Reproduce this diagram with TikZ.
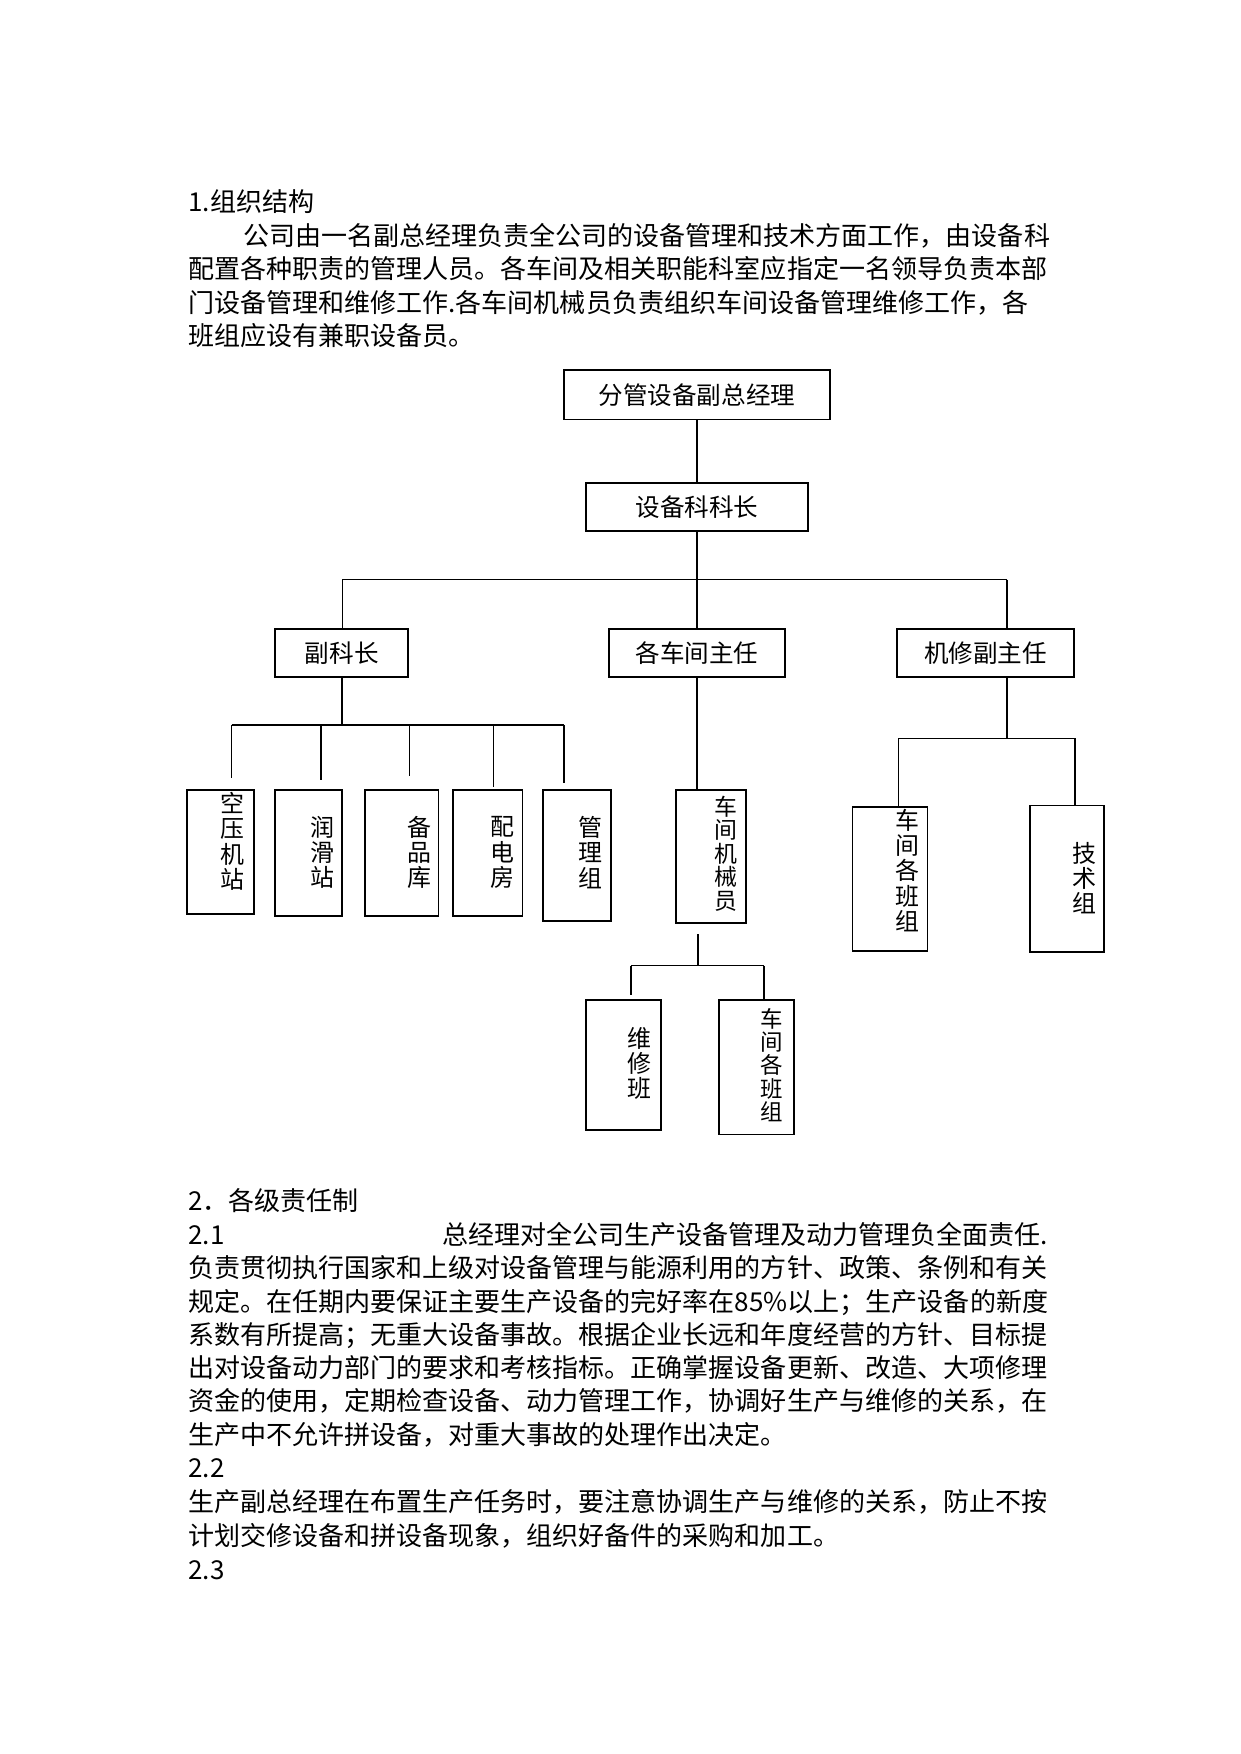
\documentclass[tikz,border=0pt]{standalone}
\usepackage{fontspec}
\setmainfont{Noto Sans CJK SC}
\begin{document}
\begin{tikzpicture}[x=0.5373pt,y=-0.5373pt,
  bx/.style={draw, line width=0.9pt, inner sep=0pt},
  wh/.style 2 args={minimum width=#1*0.5373pt, minimum height=#2*0.5373pt},
  ln/.style={line width=0.75pt},
  body/.style={anchor=base west, inner sep=0pt, font=\fontsize{12.5}{15}\selectfont},
  hl/.style={font=\fontsize{11.8}{14}\selectfont},
  vl/.style={inner sep=0pt, align=center}]
\useasboundingbox (0,0) rectangle (1108.5,1567.8);

% ---- body text, part 1 ----
\node[body] (t0) at (168,189) {1.组织结构};
\node[body] (t1) at (217,219) {公司由一名副总经理负责全公司的设备管理和技术方面工作，由设备科};
\node[body] (t2) at (168,249) {配置各种职责的管理人员。各车间及相关职能科室应指定一名领导负责本部};
\node[body] (t3) at (168,279) {门设备管理和维修工作.各车间机械员负责组织车间设备管理维修工作，各};
\node[body] (t4) at (168,309) {班组应设有兼职设备员。};

% ---- chart boxes ----
\node[bx,wh={238}{44},hl] (A) at (623,353) {分管设备副总经理};
\node[bx,wh={198}{43},hl] (B) at (623,453.5) {设备科科长};
\node[bx,wh={119}{43},hl] (C) at (305.5,583.5) {副科长};
\node[bx,wh={158}{43},hl] (D) at (623,583.5) {各车间主任};
\node[bx,wh={158}{43},hl] (E) at (881,583.5) {机修副主任};

\node[bx,wh={60}{111}] (k1) at (197,761.5) {};
\node[bx,wh={60}{113}] (k2) at (276,762.5) {};
\node[bx,wh={66}{113}] (k3) at (359,762.5) {};
\node[bx,wh={62}{113}] (k4) at (436,762.5) {};
\node[bx,wh={61}{117}] (k5) at (515.5,764.5) {};
\node[bx,wh={63}{119}] (m) at (635.5,765.5) {};
\node[bx,wh={67}{129}] (r1) at (795.5,785.5) {};
\node[bx,wh={66}{131}] (r2) at (954,785.5) {};
\node[bx,wh={67}{116}] (b1) at (557.5,952) {};
\node[bx,wh={67}{120}] (b2) at (676.5,954) {};

% ---- vertical labels ----
\node[vl,font=\fontsize{11.5}{12.1}\selectfont] (lk1) at (208,752) {空\\压\\机\\站};
\node[vl,font=\fontsize{11.5}{12.1}\selectfont] (lk2) at (288,762) {润\\滑\\站};
\node[vl,font=\fontsize{11.5}{12.1}\selectfont] (lk3) at (375,762) {备\\品\\库};
\node[vl,font=\fontsize{11.5}{12.1}\selectfont] (lk4) at (449,762) {配\\电\\房};
\node[vl,font=\fontsize{11.5}{12.1}\selectfont] (lk5) at (528,762) {管\\理\\组};
\node[vl,font=\fontsize{11}{11.3}\selectfont] (lm) at (649,763) {车\\间\\机\\械\\员};
\node[vl,font=\fontsize{11.5}{12.1}\selectfont] (lr1) at (811,778) {车\\间\\各\\班\\组};
\node[vl,font=\fontsize{11.5}{11.9}\selectfont] (lr2) at (969,785) {技\\术\\组};
\node[vl,font=\fontsize{11.5}{12.1}\selectfont] (lb1) at (572,950.5) {维\\修\\班};
\node[vl,font=\fontsize{10.8}{11.1}\selectfont] (lb2) at (690,952) {车\\间\\各\\班\\组};

% ---- connectors ----
\draw[ln] (A.south) -- (B.north);
\coordinate (bus1) at (623,518);
\coordinate (bus1L) at (306,518);
\coordinate (bus1R) at (900,518);
\draw[ln] (B.south) -- (bus1);
\draw[ln] (bus1L) -- (bus1R);
\draw[ln] (bus1L) -- (bus1L |- C.north);
\draw[ln] (bus1) -- (D.north);
\draw[ln] (bus1R) -- (bus1R |- E.north);

\coordinate (bus2) at (306,648);
\coordinate (bus2L) at (207,648);
\coordinate (bus2R) at (504,648);
\coordinate (d1) at (207,695);
\coordinate (d2) at (287,697);
\coordinate (d3) at (366,694);
\coordinate (d4) at (441,703);
\coordinate (d5) at (504,700);
\draw[ln] (C.south) -- (C.south |- bus2);
\draw[ln] (bus2L) -- (bus2R);
\draw[ln] (bus2L) -- (d1);
\draw[ln] (d2 |- bus2) -- (d2);
\draw[ln] (d3 |- bus2) -- (d3);
\draw[ln] (d4 |- bus2) -- (d4);
\draw[ln] (bus2R) -- (d5);

\draw[ln] (D.south) -- (D.south |- m.north);

\coordinate (e3) at (900,660);
\coordinate (r1t) at (803,660);
\coordinate (r2t) at (961,660);
\draw[ln] (e3 |- E.south) -- (e3);
\draw[ln] (r1t) -- (r2t);
\draw[ln] (r1t) -- (r1t |- r1.north);
\draw[ln] (r2t) -- (r2t |- r2.north);

\coordinate (m0) at (624,835);
\coordinate (m1) at (624,863);
\coordinate (bl) at (564,863);
\coordinate (br) at (683,863);
\coordinate (blE) at (564,889);
\draw[ln] (m0) -- (m1);
\draw[ln] (bl) -- (br);
\draw[ln] (bl) -- (blE);
\draw[ln] (br) -- (br |- b2.north);

% ---- body text, part 2 ----
\node[body] (s0) at (168,1082) {2．各级责任制};
\node[body] (s1) at (168,1112) {2.1};
\node[body] (s1b) at (395,1112) {总经理对全公司生产设备管理及动力管理负全面责任.};
\node[body] (s2) at (168,1142) {负责贯彻执行国家和上级对设备管理与能源利用的方针、政策、条例和有关};
\node[body] (s3) at (168,1172) {规定。在任期内要保证主要生产设备的完好率在85\%以上；生产设备的新度};
\node[body] (s4) at (168,1202) {系数有所提高；无重大设备事故。根据企业长远和年度经营的方针、目标提};
\node[body] (s5) at (168,1231) {出对设备动力部门的要求和考核指标。正确掌握设备更新、改造、大项修理};
\node[body] (s6) at (168,1261) {资金的使用，定期检查设备、动力管理工作，协调好生产与维修的关系，在};
\node[body] (s7) at (168,1291) {生产中不允许拼设备，对重大事故的处理作出决定。};
\node[body] (s8) at (168,1321) {2.2};
\node[body] (s9) at (168,1351) {生产副总经理在布置生产任务时，要注意协调生产与维修的关系，防止不按};
\node[body] (s10) at (168,1381) {计划交修设备和拼设备现象，组织好备件的采购和加工。};
\node[body] (s11) at (168,1412) {2.3};
\end{tikzpicture}
\end{document}
